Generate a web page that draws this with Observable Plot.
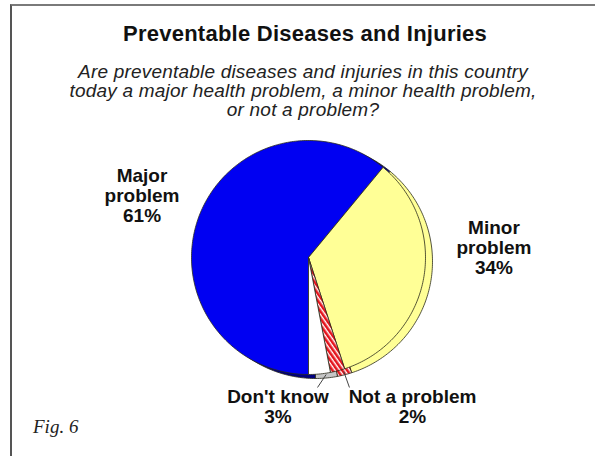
<!DOCTYPE html>
<html><head><meta charset="utf-8">
<script src="https://cdn.jsdelivr.net/npm/d3@7"></script>
<script src="https://cdn.jsdelivr.net/npm/@observablehq/plot@0.6"></script>
<style>
body{margin:0;background:#fff;}
#wrap{position:relative;width:595px;height:456px;overflow:hidden;font-family:"Liberation Sans",Arial,sans-serif;color:#111;}
#chart{position:absolute;left:0;top:128px;}
#frame{position:absolute;left:10px;top:4px;width:600px;height:470px;border-top:2px solid #7a7a7a;border-left:2px solid #555;pointer-events:none;}
#title{position:absolute;left:0;width:610px;top:23px;text-align:center;font-weight:bold;font-size:22px;line-height:22px;letter-spacing:0.25px;}
#subtitle{position:absolute;left:0;width:606px;top:62px;text-align:center;font-style:italic;font-size:19px;line-height:19px;letter-spacing:0.2px;color:#222;}
#caption{position:absolute;left:33px;top:417px;font-family:"Liberation Serif","Times New Roman",serif;font-style:italic;font-size:19px;line-height:19px;color:#222;}
</style></head>
<body>
<div id="wrap">
  <div id="chart"></div>
  <div id="frame"></div>
  <div id="title">Preventable Diseases and Injuries</div>
  <div id="subtitle">Are preventable diseases and injuries in this country<br>today a major health problem, a minor health problem,<br>or not a problem?</div>
  <div id="caption">Fig. 6</div>
</div>
<script>
// ---- data ----
const categories = ["Major problem", "Minor problem", "Not a problem", "Don't know"];
const percents = [61, 34, 2, 3];
const labelTexts = ["Major\nproblem\n61%", "Minor\nproblem\n34%", "Not a problem\n2%", "Don't know\n3%"];

// ---- styles / layout ----
const topColors = ["#0000f2", "#ffff96", "url(#hatch)", "#ffffff"];
const rimColors = ["#00007e", "#ffff96", "url(#hatch)", "#c6c6c6"];
const labelX = [-1.423, 1.585, 0.889, -0.261];
const labelY = [0.530, 0.085, -1.274, -1.274];
const leaderTopY = -1.111;
const leaderX = [null, null, 0.350, 0.077];

const W = 595, H = 300, CX = 308, CY = 129, R = 117;
const rimDX = 7 / R, rimDY = -4 / R;

const arcs = d3.pie().sort(null).startAngle(Math.PI).endAngle(3 * Math.PI)(percents);

function slicePolygon(arc, i, dx, dy, colors) {
  const pts = [{x: dx, y: dy, name: categories[i], c: colors[i]}];
  const n = Math.max(4, Math.ceil((arc.endAngle - arc.startAngle) / (Math.PI / 180)));
  for (let k = 0; k <= n; k++) {
    const a = arc.startAngle + (arc.endAngle - arc.startAngle) * k / n;
    pts.push({x: Math.sin(a) + dx, y: Math.cos(a) + dy, name: categories[i], c: colors[i]});
  }
  pts.push({x: dx, y: dy, name: categories[i], c: colors[i]});
  return pts;
}
const rimPts = arcs.flatMap((a, i) => slicePolygon(a, i, rimDX, rimDY, rimColors));
const topPts = arcs.flatMap((a, i) => slicePolygon(a, i, 0, 0, topColors));

const labels = categories.map((c, i) => ({name: c, text: labelTexts[i], x: labelX[i], y: labelY[i]}));
const leaders = arcs.map((a, i) => {
  if (leaderX[i] == null) return null;
  const m = (a.startAngle + a.endAngle) / 2;
  return {x1: 0.97 * Math.sin(m) + rimDX, y1: 0.97 * Math.cos(m) + rimDY, x2: leaderX[i], y2: leaderTopY};
}).filter(d => d);

const plot = Plot.plot({
  width: W, height: H,
  margin: 0,
  style: {background: "transparent", fontFamily: "'Liberation Sans', Arial, sans-serif"},
  x: {domain: [-CX / R, (W - CX) / R], axis: null},
  y: {domain: [-(H - CY) / R, CY / R], axis: null},
  color: {type: "identity"},
  marks: [
    Plot.line(rimPts, {x: "x", y: "y", z: "name", fill: "c", stroke: "#2a2a1a", strokeWidth: 0.8, curve: "linear"}),
    Plot.line(topPts, {x: "x", y: "y", z: "name", fill: "c", stroke: "#2a2a1a", strokeWidth: 0.8, curve: "linear"}),
    Plot.link(leaders, {x1: "x1", y1: "y1", x2: "x2", y2: "y2", stroke: "#444", strokeWidth: 1}),
    Plot.text(labels, {x: "x", y: "y", text: "text", fontSize: 19, fontWeight: "bold", lineHeight: 1.05, fill: "#111"})
  ]
});

// hatch pattern for "Not a problem"
const ns = "http://www.w3.org/2000/svg";
const defs = document.createElementNS(ns, "defs");
const pat = document.createElementNS(ns, "pattern");
pat.setAttribute("id", "hatch");
pat.setAttribute("patternUnits", "userSpaceOnUse");
pat.setAttribute("width", "4");
pat.setAttribute("height", "4");
pat.setAttribute("patternTransform", "rotate(-35)");
const bg = document.createElementNS(ns, "rect");
bg.setAttribute("width", "4"); bg.setAttribute("height", "4"); bg.setAttribute("fill", "#ffffff");
const st = document.createElementNS(ns, "rect");
st.setAttribute("width", "2.6"); st.setAttribute("height", "4"); st.setAttribute("fill", "#e5141c");
pat.appendChild(bg); pat.appendChild(st);
defs.appendChild(pat);
plot.insertBefore(defs, plot.firstChild);

document.getElementById("chart").appendChild(plot);
</script>
</body></html>
